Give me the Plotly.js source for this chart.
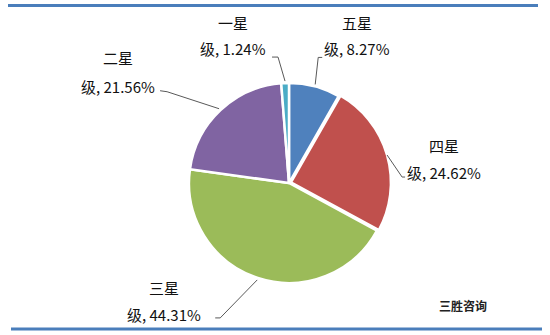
<!DOCTYPE html>
<html>
<head>
<meta charset="utf-8">
<script src="https://cdn.plot.ly/plotly-3.0.1.min.js"></script>
<style>html,body{margin:0;padding:0;background:#fff;}#chart{width:550px;height:335px;}</style>
</head>
<body>
<div id="chart"></div>
<script>
// ---- data ----
const categories = ['五星级', '四星级', '三星级', '二星级', '一星级'];
const labelLine1 = ['五星', '四星', '三星', '二星', '一星'];
const labelLine2 = ['级, 8.27%', '级, 24.62%', '级, 44.31%', '级, 21.56%', '级, 1.24%'];
const shares = [8.27, 24.62, 44.31, 21.56, 1.24];

// ---- styling / layout ----
const colors = ['#4F81BD', '#C0504D', '#9BBB59', '#8064A2', '#4BACC6'];
const W = 550, H = 335;
const cx = 289, cy = 183, R = 102;
// offsets (px) relative to the slice-edge point at mid-angle
const labelOff = [[42, -36], [57, 17], [-93, 35], [-101, -22], [-52, -33]];
const line1Gap = [26, 27, 27, 29, 26];
const elbowOff = [[3, -27], [15, 22], [-37, 38], [-52, -17], [-7, -24]];
const tickOff = [[7, -27], [18, 22], [-42, 38], [-59, -18], [-13, -24]];

const px = x => x / W;
const py = y => 1 - y / H;

const total = shares.reduce((a, b) => a + b, 0);
let cum = 0;
const annotations = [];
const shapes = [];
const font = {family: 'Noto Sans CJK SC, sans-serif', size: 15, color: '#111'};

shares.forEach((v, i) => {
  const mid = (cum + v / 2) / total * 2 * Math.PI;
  cum += v;
  const ex = cx + R * Math.sin(mid);
  const ey = cy - R * Math.cos(mid);
  const lx = ex + labelOff[i][0], ly = ey + labelOff[i][1];
  annotations.push({xref: 'paper', yref: 'paper', x: px(lx), y: py(ly), text: labelLine2[i],
    showarrow: false, xanchor: 'center', yanchor: 'middle', font: font});
  annotations.push({xref: 'paper', yref: 'paper', x: px(lx), y: py(ly - line1Gap[i]), text: labelLine1[i],
    showarrow: false, xanchor: 'center', yanchor: 'middle', font: font});
  const bx = ex + elbowOff[i][0], by = ey + elbowOff[i][1];
  const tx = ex + tickOff[i][0], ty = ey + tickOff[i][1];
  shapes.push({type: 'path', xref: 'paper', yref: 'paper',
    path: `M ${px(ex)} ${py(ey)} L ${px(bx)} ${py(by)} L ${px(tx)} ${py(ty)}`,
    line: {color: '#595959', width: 1}});
});

annotations.push({xref: 'paper', yref: 'paper', x: px(463), y: py(305), text: '<b>三胜咨询</b>',
  showarrow: false, xanchor: 'center', yanchor: 'middle',
  font: {family: 'Noto Sans CJK SC, sans-serif', size: 12, color: '#222'}});

shapes.push({type: 'line', xref: 'paper', yref: 'paper', x0: px(8), x1: px(538), y0: py(5.5), y1: py(5.5),
  line: {color: '#4A7EBB', width: 3}});
shapes.push({type: 'line', xref: 'paper', yref: 'paper', x0: px(11), x1: px(542), y0: py(329), y1: py(329),
  line: {color: '#4A7EBB', width: 3}});

const trace = {
  type: 'pie',
  labels: categories,
  values: shares,
  sort: false,
  direction: 'clockwise',
  rotation: 0,
  textinfo: 'none',
  hoverinfo: 'label+percent',
  pull: [0, 0.02, 0, 0, 0],
  marker: {colors: colors, line: {color: '#ffffff', width: 2.5}},
  domain: {x: [px(cx - R), px(cx + R)], y: [py(cy + R), py(cy - R)]}
};

const layout = {
  width: W, height: H,
  margin: {l: 0, r: 0, t: 0, b: 0},
  paper_bgcolor: '#fff',
  showlegend: false,
  annotations: annotations,
  shapes: shapes
};

Plotly.newPlot('chart', [trace], layout, {displayModeBar: false, staticPlot: true});
</script>
</body>
</html>
